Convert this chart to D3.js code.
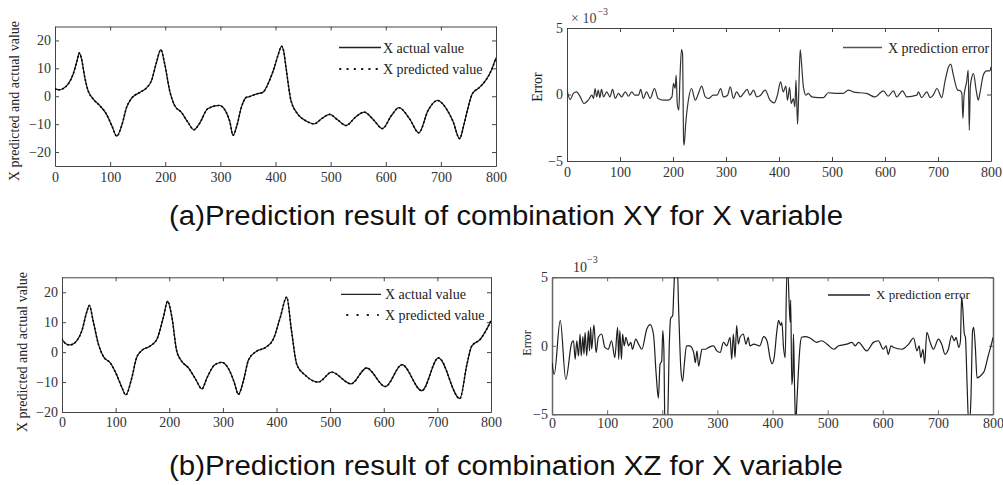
<!DOCTYPE html>
<html>
<head>
<meta charset="utf-8">
<script src="https://cdn.jsdelivr.net/npm/d3@7"></script>
<style>
  body { margin: 0; background: #fff; }
  svg { display: block; }
</style>
</head>
<body>
<svg id="chart" width="1003" height="485"></svg>
<script>
// ---- data (t = sample index, v = value) ----
const xTicks = [0, 100, 200, 300, 400, 500, 600, 700, 800];
const yTicksValue = [-20, -10, 0, 10, 20];
const yTicksError = [-5, 0, 5];

// (a) combination XY, X actual value
const xyActual = [
  [0,2.6],[8,2.3],[15,2.8],[24,4.4],[33,8],[40,12.7],[44,15.5],[48,13.5],[54,6.8],[60,2],
  [69,-0.9],[81,-3.3],[93,-6.3],[103,-10.5],[112,-14.3],[121,-10.5],[130,-3.9],[139,-0.7],
  [154,1.4],[166,3],[175,5.6],[184,12.1],[192,16.7],[199,11.6],[208,2],[217,-3.3],[229,-5.7],
  [241,-9.3],[252,-12],[262,-9.8],[277,-4.5],[298,-3.3],[310,-5.5],[317,-9],[323,-14],
  [330,-10.5],[338,-4],[347,-0.4],[353,-0.1],[365,0.8],[377,1.4],[389,5.6],[398,10.4],
  [405,15],[411,17.9],[415,16],[419,10.4],[428,-1.5],[440,-6.3],[455,-8.8],[470,-9.9],
  [484,-8],[498,-6.5],[513,-8.5],[528,-10.5],[545,-7.5],[561,-5.7],[578,-8.5],[594,-11.6],
  [610,-7],[624,-4.1],[643,-8],[660,-13.1],[677,-5],[694,-1.5],[710,-4.5],[722,-9],
  [734,-15.2],[742,-10],[748,-5.1],[757,0.9],[769,3],[781,5.6],[792,9.5],[800,13.8]
];
// predicted value is indistinguishable from actual at this scale (error ~1e-3)
const xyPredicted = xyActual;

// (a) X prediction error (x 1e-3)
const xyError = [
  [0,0.33],[6,-0.38],[12,0.08],[18,0.2],[25,-0.18],[32,-0.68],[40,-0.43],[47,-0.05],[50,-0.3],
  [53,0.45],[56,-0.18],[59,0.33],[62,-0.23],[65,0.38],[69,-0.18],[75,0.2],[81,-0.18],[86,0.38],
  [91,-0.3],[97,0.08],[103,-0.18],[110,0.2],[116,-0.13],[122,0.2],[128,-0.05],[135,-0.05],
  [139,0.38],[144,-0.3],[150,0.2],[157,-0.3],[165,0.45],[172,-0.3],[182,-0.43],[191,-0.43],
  [198,-0.18],[201,0.83],[204,0.45],[206,1.45],[208,-0.68],[211,-1.18],[213,1.08],[216,3.38],
  [218,3.08],[220,-3.43],[221,-3.8],[224,-2.18],[229,-0.43],[235,0.45],[242,-0.43],[248,0.08],
  [254,0.63],[261,-0.18],[267,-0.3],[276,-0.05],[283,-0.05],[290,0.45],[295,-0.18],[303,-0.05],
  [308,0.58],[314,-0.3],[320,0.2],[327,-0.18],[333,0.08],[340,0.38],[345,-0.05],[352,0.33],
  [358,-0.18],[364,-0.1],[374,0.33],[383,-0.43],[391,-0.63],[397,-0.05],[403,0.95],[408,0.2],
  [413,0.63],[416,-0.43],[420,0.53],[423,-0.68],[427,-0.3],[430,-0.93],[432,1.08],[435,-2.23],
  [437,-0.18],[440,3.38],[443,2.08],[446,0.58],[451,-0.05],[455,0.08],[462,-0.18],[474,-0.23],
  [484,-0.23],[493,0.13],[509,0.08],[521,0.08],[531,0.33],[540,0.2],[553,0.13],[565,0.08],
  [581,-0.18],[597,0.28],[606,-0.13],[616,0.28],[622,-0.18],[633,0.28],[641,-0.18],[660,-0.05],
  [663,0.2],[669,-0.23],[679,0.2],[685,-0.23],[691,-0.05],[698,0.45],[707,-0.23],[713,0.95],
  [720,2.08],[724,2.28],[729,1.45],[737,0.33],[742,0.28],[745,0.08],[747,-1.8],[749,-0.18],
  [752,0.58],[754,0.95],[757,1.83],[759,-2.68],[761,0.58],[764,1.33],[767,1.58],[772,0.33],
  [776,-0.43],[779,0.08],[786,1.53],[792,1.78],[798,1.78],[800,2.08]
];

// (b) combination XZ, X actual value
const xzActual = [
  [0,4.3],[9,2.6],[15,2.4],[27,3.7],[37,7.1],[46,13.3],[51,15.6],[58,10.5],[68,2.6],[77,-1.4],
  [90,-3.6],[102,-7.6],[111,-11.5],[119,-14.3],[130,-8.7],[139,-1.9],[149,0.6],[164,2],[177,4.3],
  [189,11.6],[197,17],[205,11.6],[214,0.3],[223,-3],[236,-5.3],[249,-9],[261,-12.3],[270,-8.7],
  [285,-4.2],[298,-3.4],[313,-6.4],[321,-10],[329,-14.1],[338,-9.8],[348,-2.5],[363,0.3],
  [379,1.5],[394,4.3],[407,11.6],[419,18.4],[428,7.1],[438,-4.2],[453,-7.6],[478,-10],
  [503,-6.7],[539,-10.6],[568,-5.3],[603,-11.5],[634,-4.2],[671,-12.9],[702,-1.9],[742,-15.5],
  [755,-4.2],[764,2],[780,4.3],[792,7.7],[800,10.5]
];
const xzPredicted = xzActual;

// (b) X prediction error (x 1e-3), values past +-5 run off the frame
const xzError = [
  [0,-1.23],[4,-2.09],[15,1.85],[25,-2.46],[36,0.25],[39,0.37],[42,-0.99],[45,0.37],[48,-0.74],
  [51,0.86],[53,-0.74],[56,0.67],[58,-0.62],[60,0.99],[63,-0.74],[66,1.11],[68,-0.37],[70,1.35],
  [72,-0.25],[76,1.53],[80,-0.49],[84,0.62],[90,0.86],[96,-0.12],[102,-0.25],[108,0.37],
  [114,-0.86],[119,1.35],[121,-0.99],[123,1.11],[126,-0.99],[128,0.86],[131,0],[134,0.62],
  [139,0],[143,0.25],[146,-0.25],[152,0.49],[157,0.12],[163,-0.25],[172,1.23],[178,1.55],
  [184,0.86],[189,-2.09],[193,-3.82],[196,-1.35],[199,-1.11],[201,1.11],[203,-0.37],[205,-6.3],
  [209,-6.3],[213,0.37],[215,1.97],[219,2.22],[221,4.06],[224,6],[227,6],[230,2.34],[234,-1.85],
  [237,-2.59],[240,-1.35],[244,0],[250,0],[257,-0.49],[260,-1.23],[263,-0.37],[266,-1.48],
  [269,-0.86],[272,-0.25],[278,-0.25],[284,-0.12],[293,0],[299,-0.37],[305,-0.49],[311,0.25],
  [317,0],[323,0.62],[326,-0.99],[329,0.86],[332,-0.86],[335,1.48],[338,0.12],[341,0.62],
  [347,0.86],[352,0.12],[356,0.62],[359,0],[366,0.12],[377,0],[384,0.67],[390,0.37],[396,-0.99],
  [399,-1.31],[403,-0.86],[408,1.11],[411,1.85],[415,1.48],[417,1.72],[420,-0.12],[423,-0.86],
  [426,5.3],[428,5.3],[430,3.33],[432,1.72],[433,3.33],[435,-2.83],[437,-1.85],[438,0.86],
  [440,-2.96],[442,-5.8],[444,-4.31],[447,-1.85],[450,0],[453,0.62],[459,0.67],[468,0.57],
  [480,0.25],[489,0.37],[499,0.12],[511,-0.25],[520,0],[535,0.12],[544,0.25],[550,0],[556,0.25],
  [571,-0.37],[583,0.25],[592,0.37],[601,-0.25],[606,0],[610,-0.62],[615,0],[620,-0.12],
  [635,-0.25],[647,0.12],[656,0.57],[662,-0.37],[666,0],[669,-0.86],[673,-0.25],[676,-1.31],
  [680,0.99],[686,0.25],[692,-0.25],[701,0.49],[707,0.12],[713,-0.62],[719,-0.25],[725,0.74],
  [730,0.37],[733,0.62],[738,-0.12],[741,0.37],[743,3.57],[745,2.83],[748,0.86],[750,0.62],
  [753,-2.83],[756,-5.8],[757,-5.8],[760,-3.82],[763,1.11],[765,1.35],[768,-0.12],[771,-2.34],
  [780,-2.09],[784,-1.85],[792,-0.62],[798,0.25],[800,0.62]
];

// ---- drawing ----
const svg = d3.select("#chart");
const serif = "Liberation Serif, DejaVu Serif, serif";

function panel(p) {
  const x = d3.scaleLinear().domain([0, 800]).range([p.left, p.right]);
  const y = d3.scaleLinear().domain(p.ydom).range([p.bottom, p.top]);
  const g = svg.append("g");

  g.append("g").attr("transform", `translate(0,${p.bottom})`)
    .call(d3.axisBottom(x).tickValues(xTicks).tickSizeInner(-4).tickSizeOuter(0).tickPadding(p.xpad));
  g.append("g").attr("transform", `translate(0,${p.top})`)
    .call(d3.axisTop(x).tickValues(xTicks).tickSizeInner(-4).tickSizeOuter(0).tickFormat(""));
  g.append("g").attr("transform", `translate(${p.left},0)`)
    .call(d3.axisLeft(y).tickValues(p.yticks).tickSizeInner(-4).tickSizeOuter(0).tickPadding(p.ypad));
  g.append("g").attr("transform", `translate(${p.right},0)`)
    .call(d3.axisRight(y).tickValues(p.yticks).tickSizeInner(-4).tickSizeOuter(0).tickFormat(""));

  g.selectAll("g").attr("font-family", serif).attr("font-size", p.tickFont);
  g.selectAll(".domain").attr("stroke", p.frame).attr("stroke-width", p.frameW);
  g.selectAll(".tick line").attr("stroke", p.frame);
  g.selectAll(".tick text").attr("fill", "#333");

  const id = "clip" + p.id;
  svg.append("clipPath").attr("id", id).append("rect")
    .attr("x", p.left).attr("y", p.top)
    .attr("width", p.right - p.left).attr("height", p.bottom - p.top);

  const plot = g.append("g").attr("clip-path", `url(#${id})`);
  return { x: x, y: y, g: g, plot: plot };
}

function addLine(pn, data, color, width, dash) {
  const line = d3.line()
    .x(d => pn.x(d[0]))
    .y(d => pn.y(d[1]))
    .curve(d3.curveMonotoneX);
  const path = pn.plot.append("path")
    .datum(data)
    .attr("d", line)
    .attr("fill", "none")
    .attr("stroke", color)
    .attr("stroke-width", width)
    .attr("stroke-linejoin", "round");
  if (dash) path.attr("stroke-dasharray", dash).attr("stroke-linecap", "round");
}

function label(x, y, txt, size, rotate, anchor) {
  const t = svg.append("text")
    .text(txt)
    .attr("x", x).attr("y", y)
    .attr("font-family", serif)
    .attr("font-size", size + "px")
    .attr("fill", "#222")
    .attr("text-anchor", anchor || "start");
  if (rotate) t.attr("transform", `rotate(-90,${x},${y})`).attr("text-anchor", "middle");
  return t;
}

// (a) left: values
const pA1 = panel({ id: "a1", left: 55, right: 496, top: 26.5, bottom: 166, ydom: [-25, 25],
  yticks: yTicksValue, xpad: 6, ypad: 4, tickFont: 14, frame: "#444", frameW: 1 });
addLine(pA1, xyActual, "#222", 1.3);
addLine(pA1, xyPredicted, "#000", 1.6, "0.5,3.5");
label(19, 101, "X predicted and actual value", 14, true);

svg.append("line").attr("x1", 339).attr("x2", 381).attr("y1", 47.5).attr("y2", 47.5)
  .attr("stroke", "#222").attr("stroke-width", 1.3);
label(383, 52.5, "X actual value", 14);
svg.append("line").attr("x1", 340).attr("x2", 381).attr("y1", 69).attr("y2", 69)
  .attr("stroke", "#111").attr("stroke-width", 2).attr("stroke-dasharray", "0.5,6.8").attr("stroke-linecap", "round");
label(383, 74, "X predicted value", 14);

// (a) right: error
const pA2 = panel({ id: "a2", left: 567, right: 991, top: 28, bottom: 161, ydom: [-5, 5],
  yticks: yTicksError, xpad: 6, ypad: 4, tickFont: 14, frame: "#444", frameW: 1 });
addLine(pA2, xyError, "#333", 1.2);
label(542, 87, "Error", 14, true);
const e1 = label(571, 23, "", 14);
e1.append("tspan").text("× 10").attr("fill", "#444");
e1.append("tspan").text("−3").attr("font-size", "10px").attr("dy", -8).attr("dx", 1).attr("fill", "#444");
svg.append("line").attr("x1", 843).attr("x2", 882).attr("y1", 47.5).attr("y2", 47.5)
  .attr("stroke", "#555").attr("stroke-width", 1.3);
label(888, 52.5, "X prediction error", 14);

// (b) left: values
const pB1 = panel({ id: "b1", left: 62, right: 491, top: 277.3, bottom: 412, ydom: [-20, 25],
  yticks: yTicksValue, xpad: 5, ypad: 4, tickFont: 14, frame: "#444", frameW: 1 });
addLine(pB1, xzActual, "#222", 1.3);
addLine(pB1, xzPredicted, "#000", 1.6, "0.5,3.5");
label(27, 352, "X predicted and actual value", 14, true);

svg.append("line").attr("x1", 341).attr("x2", 381).attr("y1", 294.3).attr("y2", 294.3)
  .attr("stroke", "#222").attr("stroke-width", 1.3);
label(385, 299, "X actual value", 14);
svg.append("line").attr("x1", 347).attr("x2", 378).attr("y1", 315).attr("y2", 315)
  .attr("stroke", "#111").attr("stroke-width", 2).attr("stroke-dasharray", "0.5,9.8").attr("stroke-linecap", "round");
label(385, 320, "X predicted value", 14);

// (b) right: error
const pB2 = panel({ id: "b2", left: 552, right: 993, top: 277.3, bottom: 414.3, ydom: [-5, 5],
  yticks: yTicksError, xpad: 4, ypad: 4, tickFont: 14, frame: "#666", frameW: 1.5 });
addLine(pB2, xzError, "#1e1e1e", 1.2);
label(531, 343, "Error", 12, true);
const e2 = label(573, 272, "", 14);
e2.append("tspan").text("10").attr("fill", "#333");
e2.append("tspan").text("−3").attr("font-size", "10px").attr("dy", -9).attr("fill", "#333");
svg.append("line").attr("x1", 828).attr("x2", 870).attr("y1", 295).attr("y2", 295)
  .attr("stroke", "#222").attr("stroke-width", 1.3);
label(876, 299, "X prediction error", 13);

// captions
const sans = "Liberation Sans, Arial, sans-serif";
svg.append("text").text("(a)Prediction result of combination XY for X variable")
  .attr("x", 506).attr("y", 225).attr("text-anchor", "middle")
  .attr("textLength", 674).attr("lengthAdjust", "spacingAndGlyphs")
  .attr("font-family", sans).attr("font-size", "27px").attr("fill", "#111");
svg.append("text").text("(b)Prediction result of combination XZ for X variable")
  .attr("x", 506).attr("y", 475).attr("text-anchor", "middle")
  .attr("textLength", 674).attr("lengthAdjust", "spacingAndGlyphs")
  .attr("font-family", sans).attr("font-size", "27px").attr("fill", "#111");
</script>
</body>
</html>
